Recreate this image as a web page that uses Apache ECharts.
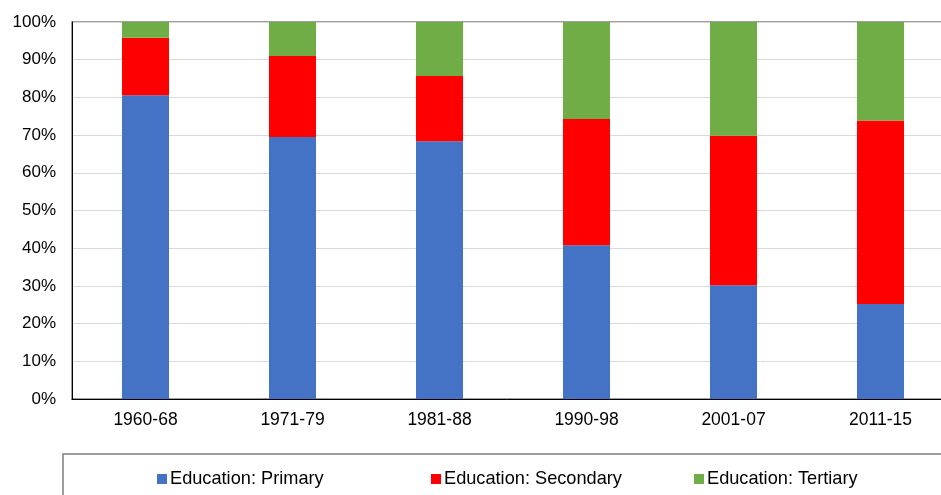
<!DOCTYPE html>
<html>
<head>
<meta charset="utf-8">
<script src="https://cdn.jsdelivr.net/npm/echarts@6/dist/echarts.min.js"></script>
<style>
html,body{margin:0;padding:0;background:#fff;}
#chart{width:941px;height:495px;}
</style>
</head>
<body>
<div id="chart"></div>
<script>
const categories = ['1960-68', '1971-79', '1981-88', '1990-98', '2001-07', '2011-15'];
const primary   = [80.6, 69.5, 68.4, 40.8, 30.2, 25.2];
const secondary = [15.2, 21.5, 17.3, 33.5, 39.6, 48.7];
const tertiary  = [4.2, 9.0, 14.3, 25.7, 30.2, 26.1];
const seriesNames = ['Education: Primary', 'Education: Secondary', 'Education: Tertiary'];
const colors = ['#4472C4', '#FF0000', '#70AD47'];

const chart = echarts.init(document.getElementById('chart'));
const font = 'Liberation Sans, Arial, sans-serif';
const legendLefts = [157, 431, 694];

chart.setOption({
  animation: false,
  textStyle: { fontFamily: font },
  grid: {
    left: 72, top: 22, right: -13, bottom: 96,
    outerBoundsMode: 'none',
    containLabel: false,
    show: true, borderColor: '#7f7f7f', borderWidth: 1.5, backgroundColor: 'transparent'
  },
  legend: seriesNames.map((n, i) => ({
    data: [n],
    left: legendLefts[i],
    top: 470,
    itemWidth: 10,
    itemHeight: 10,
    itemGap: 4,
    icon: 'rect',
    padding: 0,
    textStyle: { fontSize: 18.2, color: '#000', fontFamily: font, padding: [0, 0, 0, -2] }
  })),
  xAxis: {
    type: 'category',
    data: categories,
    axisLine: { show: true, lineStyle: { color: '#000', width: 1 } },
    axisTick: { show: false },
    axisLabel: { fontSize: 17.5, color: '#000', margin: 12, fontFamily: font }
  },
  yAxis: {
    type: 'value',
    min: 0, max: 100, interval: 10,
    axisLine: { show: true, lineStyle: { color: '#000', width: 1 } },
    axisTick: { show: false },
    axisLabel: { fontSize: 17, color: '#000', margin: 16, formatter: '{value}%', fontFamily: font },
    splitLine: { lineStyle: { color: '#d9d9d9', width: 1 } }
  },
  graphic: [{
    type: 'rect',
    shape: { x: 63, y: 454, width: 900, height: 60 },
    style: { fill: 'transparent', stroke: '#7f7f7f', lineWidth: 1.5 },
    silent: true
  }],
  series: [primary, secondary, tertiary].map((d, i) => ({
    name: seriesNames[i],
    type: 'bar',
    stack: 'total',
    data: d,
    barWidth: '32%',
    itemStyle: { color: colors[i] }
  }))
});
</script>
</body>
</html>
